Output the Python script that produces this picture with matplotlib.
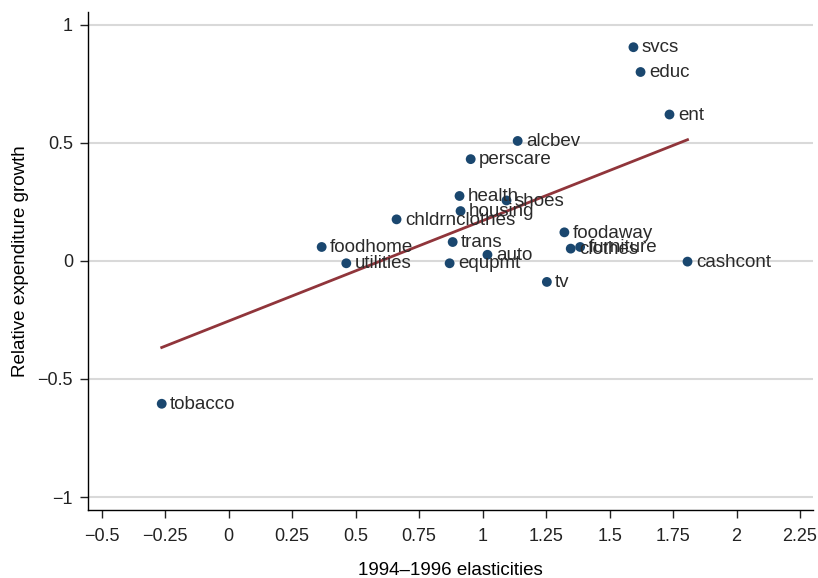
import numpy as np
import matplotlib
matplotlib.use("Agg")
import matplotlib.pyplot as plt

# categorie e valori
categories = ["svcs", "educ", "ent", "alcbev", "perscare", "health", "shoes",
              "housing", "chldrnclothes", "foodaway", "foodhome", "trans",
              "clothes", "furniture", "auto", "cashcont", "utilities",
              "equpmt", "tv", "tobacco"]
elasticities = [1.594, 1.622, 1.736, 1.138, 0.953, 0.909, 1.094,
                0.913, 0.661, 1.322, 0.366, 0.882,
                1.347, 1.384, 1.019, 1.807, 0.463,
                0.870, 1.253, -0.264]
growth = [0.905, 0.800, 0.620, 0.508, 0.431, 0.275, 0.256,
          0.211, 0.176, 0.121, 0.059, 0.080,
          0.052, 0.059, 0.026, -0.003, -0.010,
          -0.010, -0.089, -0.605]

x_ticks = [-0.5, -0.25, 0, 0.25, 0.5, 0.75, 1, 1.25, 1.5, 1.75, 2, 2.25]
x_tick_labels = ["\u22120.5", "\u22120.25", "0", "0.25", "0.5", "0.75", "1",
                 "1.25", "1.5", "1.75", "2", "2.25"]
y_ticks = [-1, -0.5, 0, 0.5, 1]
y_tick_labels = ["\u22121", "\u22120.5", "0", "0.5", "1"]

plt.rcParams['font.family'] = ['Liberation Sans', 'DejaVu Sans']

fig = plt.figure(figsize=(8.18, 5.78), dpi=100)
ax = fig.add_axes([0.108, 0.1176, 0.8855, 0.862])

x = np.array(elasticities)
y = np.array(growth)

# retta di regressione
slope, intercept = np.polyfit(x, y, 1)
xs = np.array([x.min(), x.max()])
ax.plot(xs, intercept + slope * xs, color='#90353b', linewidth=2, zorder=2)

ax.scatter(x, y, s=50, color='#1a476f', zorder=3, edgecolors='none')
for name, xi, yi in zip(categories, x, y):
    ax.annotate(name, (xi, yi), xytext=(6, -0.5), textcoords='offset points',
                va='center', ha='left', fontsize=13.5, color='#2a2a2a', zorder=4)

ax.set_xlim(-0.553, 2.30)
ax.set_ylim(-1.055, 1.055)
ax.set_xticks(x_ticks)
ax.set_xticklabels(x_tick_labels)
ax.set_yticks(y_ticks)
ax.set_yticklabels(y_tick_labels)
ax.tick_params(axis='both', labelsize=13, length=6, width=1, direction='out',
               colors='#222222', pad=5)
ax.tick_params(axis='x', pad=7)

ax.grid(True, axis='y', color='#d9d9d9', linewidth=1.5)
ax.set_axisbelow(True)
for side in ['top', 'right']:
    ax.spines[side].set_visible(False)
for side in ['left', 'bottom']:
    ax.spines[side].set_linewidth(1)

ax.set_xlabel("1994\u20131996 elasticities", fontsize=13.5, labelpad=12)
ax.set_ylabel("Relative expenditure growth", fontsize=13.5, labelpad=6)

fig.savefig("out.png", dpi=100)
